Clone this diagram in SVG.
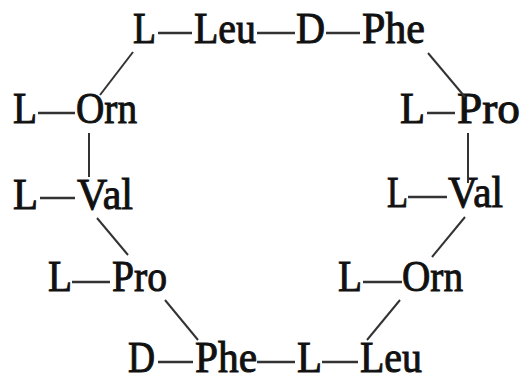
<svg xmlns="http://www.w3.org/2000/svg" width="530" height="377" viewBox="0 0 530 377">
<style>
text{font-family:"Liberation Serif","Times New Roman",serif;font-size:45px;fill:#111;stroke:#111;stroke-width:1}
.b{stroke:#333;stroke-width:2.5;fill:none}
.c{stroke:#333;stroke-width:2;fill:none}
</style>
<rect width="530" height="377" fill="#fff"/>
<g id="n1"><text x="133" y="43" textLength="23" lengthAdjust="spacingAndGlyphs">L</text><line class="b" x1="158" y1="33" x2="192" y2="33"/><text x="194" y="43" textLength="62" lengthAdjust="spacingAndGlyphs">Leu</text></g>
<g id="n2"><text x="296" y="43" textLength="29" lengthAdjust="spacingAndGlyphs">D</text><line class="b" x1="326" y1="33" x2="360" y2="33"/><text x="362" y="43" textLength="63" lengthAdjust="spacingAndGlyphs">Phe</text></g>
<g id="n3"><text x="13" y="123" textLength="24" lengthAdjust="spacingAndGlyphs">L</text><line class="b" x1="38" y1="113" x2="75" y2="113"/><text x="76" y="123" textLength="61" lengthAdjust="spacingAndGlyphs">Orn</text></g>
<g id="n4"><text x="400" y="123" textLength="25" lengthAdjust="spacingAndGlyphs">L</text><line class="b" x1="427" y1="113" x2="455" y2="113"/><text x="457" y="123" textLength="63" lengthAdjust="spacingAndGlyphs">Pro</text></g>
<g id="n5"><text x="13" y="209" textLength="25" lengthAdjust="spacingAndGlyphs">L</text><line class="b" x1="40" y1="198" x2="75" y2="198"/><text x="77" y="209" textLength="56" lengthAdjust="spacingAndGlyphs">Val</text></g>
<g id="n6"><text x="387" y="207" textLength="21" lengthAdjust="spacingAndGlyphs">L</text><line class="b" x1="408" y1="197" x2="447" y2="197"/><text x="448" y="207" textLength="55" lengthAdjust="spacingAndGlyphs">Val</text></g>
<g id="n7"><text x="48" y="291" textLength="24" lengthAdjust="spacingAndGlyphs">L</text><line class="b" x1="72" y1="282" x2="110" y2="282"/><text x="112" y="291" textLength="55" lengthAdjust="spacingAndGlyphs">Pro</text></g>
<g id="n8"><text x="338" y="291" textLength="24" lengthAdjust="spacingAndGlyphs">L</text><line class="b" x1="363" y1="282" x2="402" y2="282"/><text x="402" y="291" textLength="61" lengthAdjust="spacingAndGlyphs">Orn</text></g>
<g id="n9"><text x="128" y="372" textLength="27" lengthAdjust="spacingAndGlyphs">D</text><line class="b" x1="158" y1="362" x2="193" y2="362"/><text x="195" y="372" textLength="62" lengthAdjust="spacingAndGlyphs">Phe</text></g>
<g id="n10"><text x="297" y="372" textLength="25" lengthAdjust="spacingAndGlyphs">L</text><line class="b" x1="322" y1="362" x2="358" y2="362"/><text x="360" y="372" textLength="62" lengthAdjust="spacingAndGlyphs">Leu</text></g>
<g id="connectors">
<line class="b" x1="257" y1="33" x2="295" y2="33"/>
<line class="c" x1="133" y1="52" x2="100" y2="95"/>
<line class="c" x1="428" y1="53" x2="465" y2="97"/>
<line class="c" x1="89" y1="133" x2="89" y2="177"/>
<line class="c" x1="468" y1="133" x2="468" y2="183"/>
<line class="c" x1="97" y1="218" x2="128" y2="255"/>
<line class="c" x1="465" y1="217" x2="432" y2="257"/>
<line class="c" x1="165" y1="300" x2="198" y2="340"/>
<line class="c" x1="400" y1="300" x2="367" y2="340"/>
<line class="b" x1="257" y1="362" x2="295" y2="362"/>
</g>
</svg>
